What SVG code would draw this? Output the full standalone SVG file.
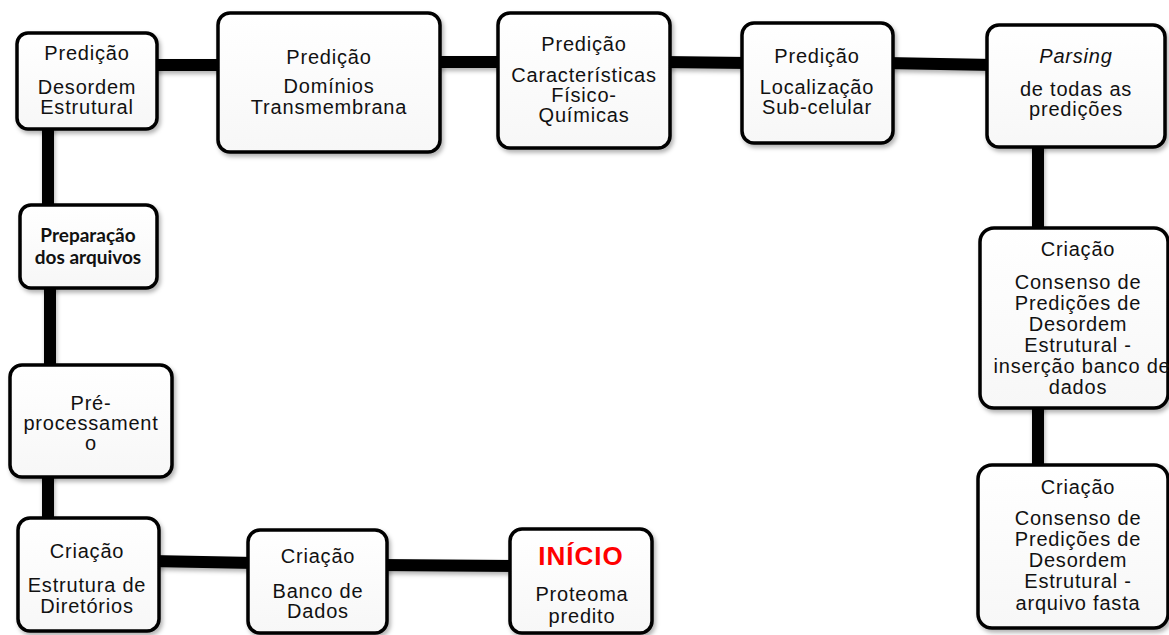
<svg xmlns="http://www.w3.org/2000/svg" width="1169" height="635" viewBox="0 0 1169 635">
<defs>
<filter id="sh" x="-10%" y="-10%" width="130%" height="130%">
<feDropShadow dx="2" dy="3" stdDeviation="2" flood-color="#000" flood-opacity="0.3"/>
</filter>
<filter id="lsh" filterUnits="userSpaceOnUse" x="0" y="0" width="1169" height="635">
<feDropShadow dx="1" dy="3" stdDeviation="2" flood-color="#000" flood-opacity="0.3"/>
</filter>
<linearGradient id="fill" x1="0" y1="0" x2="0" y2="1">
<stop offset="0" stop-color="#ffffff"/>
<stop offset="1" stop-color="#f7f7f7"/>
</linearGradient>
</defs>
<style>
.box{fill:url(#fill);stroke:#000;stroke-width:3.5;filter:url(#sh)}
.t{font-family:"Liberation Sans",Arial,sans-serif;font-size:20px;letter-spacing:0.8px;fill:#111;text-anchor:middle}
.b{font-family:Lato,"Open Sans",sans-serif;font-size:19px;font-weight:bold;fill:#111;text-anchor:middle}
.red{font-family:"Liberation Sans",Arial,sans-serif;font-size:26px;font-weight:bold;letter-spacing:1px;fill:#f00;text-anchor:middle}
.c{stroke:#000;stroke-width:12;fill:none}
</style>
<rect width="1169" height="635" fill="#fff"/>
<g id="connectors" filter="url(#lsh)">
<line class="c" x1="150" y1="65" x2="225" y2="65"/>
<line class="c" x1="433" y1="62" x2="505" y2="62"/>
<line class="c" x1="663" y1="62" x2="749" y2="63"/>
<line class="c" x1="886" y1="63" x2="994" y2="65"/>
<line class="c" x1="48" y1="122" x2="48" y2="212"/>
<line class="c" x1="50" y1="281" x2="50" y2="372"/>
<line class="c" x1="48" y1="470" x2="48" y2="525"/>
<line class="c" x1="151" y1="561" x2="255" y2="563"/>
<line class="c" x1="379" y1="565" x2="517" y2="566"/>
<line class="c" x1="1038" y1="140" x2="1038" y2="235"/>
<line class="c" x1="1038" y1="401" x2="1038" y2="472"/>
</g>
<g id="n-desordem">
<rect class="box" x="17" y="33" width="140" height="96" rx="11"/>
<text class="t" x="87" y="60">Predição</text>
<text class="t" x="87" y="94">Desordem</text>
<text class="t" x="87" y="114">Estrutural</text>
</g>
<g id="n-transmembrana">
<rect class="box" x="218" y="13" width="222" height="139" rx="12"/>
<text class="t" x="329" y="64">Predição</text>
<text class="t" x="329" y="93">Domínios</text>
<text class="t" x="329" y="114">Transmembrana</text>
</g>
<g id="n-fisico">
<rect class="box" x="498" y="13" width="172" height="135" rx="12"/>
<text class="t" x="584" y="51">Predição</text>
<text class="t" x="584" y="82">Características</text>
<text class="t" x="584" y="102">Físico-</text>
<text class="t" x="584" y="122">Químicas</text>
</g>
<g id="n-localizacao">
<rect class="box" x="742" y="23" width="151" height="120" rx="12"/>
<text class="t" x="817" y="63">Predição</text>
<text class="t" x="817" y="94">Localização</text>
<text class="t" x="817" y="114">Sub-celular</text>
</g>
<g id="n-parsing">
<rect class="box" x="987" y="25" width="178" height="122" rx="12"/>
<text class="t" x="1076" y="63" font-style="italic">Parsing</text>
<text class="t" x="1076" y="96">de todas as</text>
<text class="t" x="1076" y="116">predições</text>
</g>
<g id="n-preparacao">
<rect class="box" x="20" y="205" width="137" height="83" rx="11"/>
<text class="b" x="88" y="242">Preparação</text>
<text class="b" x="88" y="264">dos arquivos</text>
</g>
<g id="n-preproc">
<rect class="box" x="10" y="365" width="162" height="112" rx="12"/>
<text class="t" x="91" y="410">Pré-</text>
<text class="t" x="91" y="430">processament</text>
<text class="t" x="91" y="450">o</text>
</g>
<g id="n-estrutura">
<rect class="box" x="18" y="518" width="141" height="113" rx="12"/>
<text class="t" x="87" y="558">Criação</text>
<text class="t" x="87" y="592">Estrutura de</text>
<text class="t" x="87" y="613">Diretórios</text>
</g>
<g id="n-banco">
<rect class="box" x="248" y="530" width="139" height="103" rx="12"/>
<text class="t" x="318" y="563">Criação</text>
<text class="t" x="318" y="598">Banco de</text>
<text class="t" x="318" y="618">Dados</text>
</g>
<g id="n-inicio">
<rect class="box" x="510" y="529" width="142" height="104" rx="12"/>
<text class="red" x="581" y="565">INÍCIO</text>
<text class="t" x="582" y="601">Proteoma</text>
<text class="t" x="582" y="623">predito</text>
</g>
<g id="n-consenso-db">
<rect class="box" x="980" y="228" width="188" height="180" rx="14"/>
<text class="t" x="1078" y="256">Criação</text>
<text class="t" x="1078" y="289">Consenso de</text>
<text class="t" x="1078" y="310">Predições de</text>
<text class="t" x="1078" y="331">Desordem</text>
<text class="t" x="1078" y="352">Estrutural -</text>
<text class="t" x="1082" y="373" letter-spacing="-0.6">inserção banco de</text>
<text class="t" x="1078" y="394">dados</text>
</g>
<g id="n-consenso-fasta">
<rect class="box" x="978" y="465" width="190" height="163" rx="14"/>
<text class="t" x="1078" y="494">Criação</text>
<text class="t" x="1078" y="525">Consenso de</text>
<text class="t" x="1078" y="546">Predições de</text>
<text class="t" x="1078" y="567">Desordem</text>
<text class="t" x="1078" y="588">Estrutural -</text>
<text class="t" x="1078" y="610">arquivo fasta</text>
</g>
</svg>
